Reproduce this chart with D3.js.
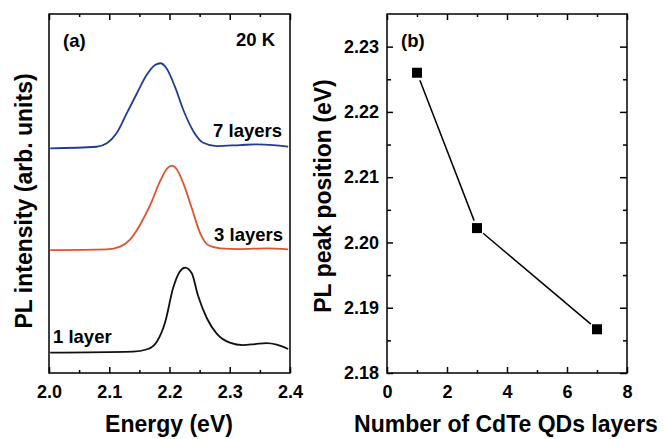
<!DOCTYPE html>
<meta charset="utf-8">
<style>
body { margin: 0; background: #fff; }
svg { display: block; }
text { font-family: "Liberation Sans", Arial, sans-serif; font-weight: bold; fill: #000; }
.frame { fill: none; stroke: #000; stroke-width: 1.5px; }
.axis path { stroke: none; }
.axis line { stroke: #000; stroke-width: 1.5px; }
.axis text { font-size: 18px; font-family: "Liberation Sans", Arial, sans-serif; font-weight: bold; }
.spec { fill: none; stroke-width: 1.8px; }
.lbl { font-size: 18.5px; }
</style>
<body>
<script src="https://d3js.org/d3.v7.min.js"></script>
<script>

// ---- data: panel (a), PL spectra at 20 K (energy in eV, offset intensity in arb. units)
var energy7 = [2.002, 2.079, 2.096, 2.112, 2.129, 2.146, 2.162, 2.176, 2.185, 2.195, 2.209, 2.223, 2.240, 2.256, 2.278, 2.317, 2.345, 2.372, 2.397];
var pl7     = [22.53, 22.69, 23.03, 24.04, 26.04, 28.05, 29.88, 30.89, 31.06, 30.56, 28.71, 26.37, 24.20, 23.09, 22.76, 22.86, 22.93, 22.86, 22.69];

var energy3 = [2.002, 2.096, 2.118, 2.134, 2.151, 2.168, 2.184, 2.195, 2.204, 2.212, 2.223, 2.237, 2.251, 2.264, 2.284, 2.317, 2.361, 2.397];
var pl3     = [12.33, 12.40, 12.67, 13.34, 14.84, 16.85, 19.18, 20.43, 20.79, 20.43, 19.02, 16.52, 14.01, 12.84, 12.50, 12.43, 12.50, 12.40];

var energy1 = [2.002, 2.139, 2.163, 2.179, 2.193, 2.206, 2.217, 2.226, 2.237, 2.247, 2.262, 2.278, 2.300, 2.322, 2.342, 2.361, 2.378, 2.397];
var pl1     = [2.04, 2.14, 2.38, 3.14, 5.14, 8.52, 10.16, 10.56, 10.00, 7.82, 5.49, 3.98, 3.05, 2.80, 2.90, 3.00, 2.85, 2.41];

var energyTicks = [2.0, 2.1, 2.2, 2.3, 2.4];

// ---- data: panel (b), PL peak position vs number of layers
var layers = [1, 3, 7];
var peakPos = [2.2260, 2.2022, 2.1867];
var layerTicks = [0, 2, 4, 6, 8];
var peakTicks = [2.18, 2.19, 2.20, 2.21, 2.22, 2.23];

var W = 665, H = 439;

var svg = d3.select("body").append("svg")
    .attr("width", W)
    .attr("height", H);

// =============== panel (a) ===============
var ax = {left: 49, right: 290, top: 14, bottom: 373};

var xA = d3.scaleLinear().domain([2.0, 2.4]).range([ax.left, ax.right]);
var yA = d3.scaleLinear().domain([0, 36]).range([ax.bottom, ax.top]);

var minorA = d3.range(2.05, 2.4, 0.1);

// bottom axis, major + minor (ticks point inward)
svg.append("g")
    .attr("class", "axis")
    .attr("transform", "translate(0," + ax.bottom + ")")
    .call(d3.axisBottom(xA).tickValues(energyTicks).tickSize(-6).tickPadding(12)
        .tickFormat(d3.format(".1f")));
svg.append("g")
    .attr("class", "axis")
    .attr("transform", "translate(0," + ax.bottom + ")")
    .call(d3.axisBottom(xA).tickValues(minorA).tickSize(-3).tickFormat(""));

// top axis
svg.append("g")
    .attr("class", "axis")
    .attr("transform", "translate(0," + ax.top + ")")
    .call(d3.axisTop(xA).tickValues(energyTicks).tickSize(-6).tickFormat(""));
svg.append("g")
    .attr("class", "axis")
    .attr("transform", "translate(0," + ax.top + ")")
    .call(d3.axisTop(xA).tickValues(minorA).tickSize(-3).tickFormat(""));

svg.append("rect")
    .attr("class", "frame")
    .attr("x", ax.left).attr("y", ax.top)
    .attr("width", ax.right - ax.left)
    .attr("height", ax.bottom - ax.top);

var specLine = d3.line()
    .x(function(d) { return xA(d[0]); })
    .y(function(d) { return yA(d[1]); })
    .curve(d3.curveMonotoneX);

var spectra = [
  {e: energy7, v: pl7, color: "#1f3d92"},
  {e: energy3, v: pl3, color: "#e0532c"},
  {e: energy1, v: pl1, color: "#111111"}
];

spectra.forEach(function(s) {
  svg.append("path")
      .datum(d3.zip(s.e, s.v))
      .attr("class", "spec")
      .style("stroke", s.color)
      .attr("d", specLine);
});

// curve labels
svg.append("text").attr("class", "lbl").attr("x", 282).attr("y", 137)
    .attr("text-anchor", "end").text("7 layers");
svg.append("text").attr("class", "lbl").attr("x", 283).attr("y", 241)
    .attr("text-anchor", "end").text("3 layers");
svg.append("text").attr("class", "lbl").attr("x", 53).attr("y", 343)
    .text("1 layer");

svg.append("text").attr("class", "lbl").attr("x", 63).attr("y", 47)
    .text("(a)");
svg.append("text").attr("class", "lbl").attr("x", 275).attr("y", 46)
    .attr("text-anchor", "end").text("20 K");

// axis titles
svg.append("text")
    .attr("x", 169)
    .attr("y", 432)
    .attr("text-anchor", "middle")
    .style("font-size", "23px")
    .text("Energy (eV)");

svg.append("text")
    .attr("transform", "translate(32," + 201 + ") rotate(-90)")
    .attr("text-anchor", "middle")
    .style("font-size", "23px")
    .text("PL intensity (arb. units)");

// =============== panel (b) ===============
var bx = {left: 387, right: 627, top: 14, bottom: 373};

var xB = d3.scaleLinear().domain([0, 8]).range([bx.left, bx.right]);
var yB = d3.scaleLinear().domain([2.18, 2.235]).range([bx.bottom, bx.top]);

var minorXB = [1, 3, 5, 7];
var minorYB = [2.185, 2.195, 2.205, 2.215, 2.225];

svg.append("g")
    .attr("class", "axis")
    .attr("transform", "translate(0," + bx.bottom + ")")
    .call(d3.axisBottom(xB).tickValues(layerTicks).tickSize(-6).tickPadding(12)
        .tickFormat(d3.format("d")));
svg.append("g")
    .attr("class", "axis")
    .attr("transform", "translate(0," + bx.bottom + ")")
    .call(d3.axisBottom(xB).tickValues(minorXB).tickSize(-3).tickFormat(""));
svg.append("g")
    .attr("class", "axis")
    .attr("transform", "translate(0," + bx.top + ")")
    .call(d3.axisTop(xB).tickValues(layerTicks).tickSize(-6).tickFormat(""));
svg.append("g")
    .attr("class", "axis")
    .attr("transform", "translate(0," + bx.top + ")")
    .call(d3.axisTop(xB).tickValues(minorXB).tickSize(-3).tickFormat(""));

svg.append("g")
    .attr("class", "axis")
    .attr("transform", "translate(" + bx.left + ",0)")
    .call(d3.axisLeft(yB).tickValues(peakTicks).tickSize(-6).tickPadding(8)
        .tickFormat(d3.format(".2f")));
svg.append("g")
    .attr("class", "axis")
    .attr("transform", "translate(" + bx.left + ",0)")
    .call(d3.axisLeft(yB).tickValues(minorYB).tickSize(-4).tickFormat(""));
svg.append("g")
    .attr("class", "axis")
    .attr("transform", "translate(" + bx.right + ",0)")
    .call(d3.axisRight(yB).tickValues(peakTicks).tickSize(-7).tickFormat(""));
svg.append("g")
    .attr("class", "axis")
    .attr("transform", "translate(" + bx.right + ",0)")
    .call(d3.axisRight(yB).tickValues(minorYB).tickSize(-4).tickFormat(""));

svg.append("rect")
    .attr("class", "frame")
    .attr("x", bx.left).attr("y", bx.top)
    .attr("width", bx.right - bx.left)
    .attr("height", bx.bottom - bx.top);

// connecting segments, trimmed so they stop short of the markers
var pts = layers.map(function(l, i) { return [xB(l), yB(peakPos[i])]; });
var gap = 8;
for (var i = 0; i < pts.length - 1; i++) {
  var p0 = pts[i], p1 = pts[i + 1];
  var dx = p1[0] - p0[0], dy = p1[1] - p0[1];
  var len = Math.sqrt(dx * dx + dy * dy);
  var ux = dx / len, uy = dy / len;
  svg.append("line")
      .attr("x1", p0[0] + ux * gap).attr("y1", p0[1] + uy * gap)
      .attr("x2", p1[0] - ux * gap).attr("y2", p1[1] - uy * gap)
      .style("stroke", "#000")
      .style("stroke-width", "1.5px");
}

var msize = 10;
svg.selectAll("rect.mark")
    .data(layers)
  .enter().append("rect")
    .attr("class", "mark")
    .attr("x", function(d) { return xB(d) - msize / 2; })
    .attr("y", function(d, i) { return yB(peakPos[i]) - msize / 2; })
    .attr("width", msize)
    .attr("height", msize)
    .style("fill", "#000");

svg.append("text").attr("class", "lbl").attr("x", 401).attr("y", 47)
    .text("(b)");

svg.append("text")
    .attr("x", 506)
    .attr("y", 432)
    .attr("text-anchor", "middle")
    .style("font-size", "23px")
    .text("Number of CdTe QDs layers");

svg.append("text")
    .attr("transform", "translate(331," + 196 + ") rotate(-90)")
    .attr("text-anchor", "middle")
    .style("font-size", "23px")
    .text("PL peak position (eV)");

</script>
</body>
